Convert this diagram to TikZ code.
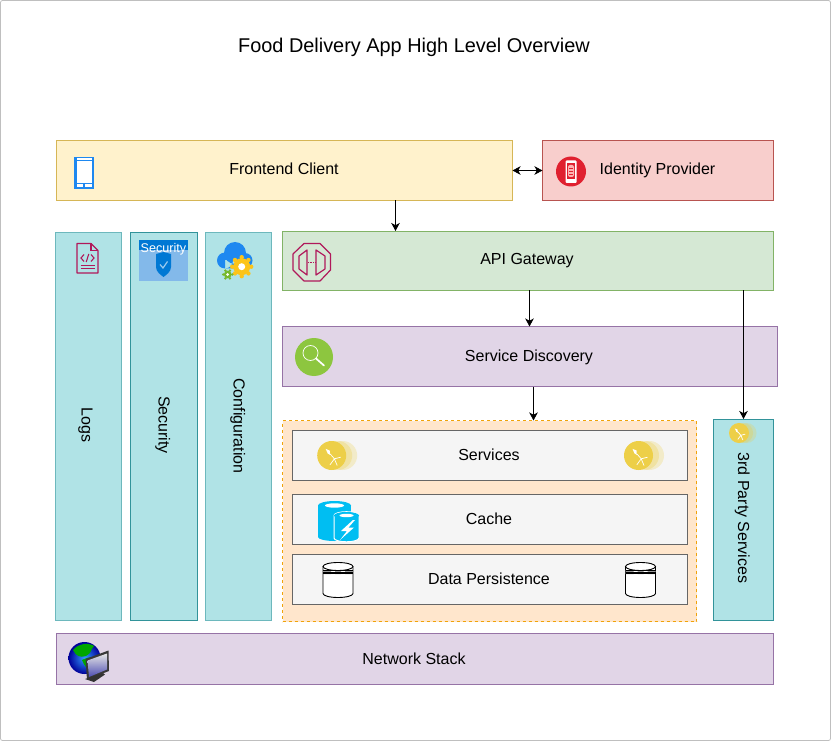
\documentclass[tikz,border=0pt]{standalone}
\usepackage{fontspec}
\setmainfont{Liberation Sans}
\usetikzlibrary{arrows.meta,calc}
\definecolor{yelF}{HTML}{FFF2CC}\definecolor{yelD}{HTML}{D6B656}
\definecolor{redF}{HTML}{F8CECC}\definecolor{redD}{HTML}{B85450}
\definecolor{grnF}{HTML}{D5E8D4}\definecolor{grnD}{HTML}{82B366}
\definecolor{purF}{HTML}{E1D5E7}\definecolor{purD}{HTML}{9673A6}
\definecolor{tealF}{HTML}{B0E3E6}\definecolor{tealD}{HTML}{0E8088}\definecolor{tealL}{HTML}{6DB8BD}
\definecolor{orgF}{HTML}{FFE6CC}\definecolor{orgD}{HTML}{F0A30A}
\definecolor{gryF}{HTML}{F5F5F5}\definecolor{gryD}{HTML}{666666}
\definecolor{crim}{HTML}{B0185A}\definecolor{blu}{HTML}{1E88F0}
\definecolor{gold}{HTML}{EDCF48}\definecolor{azu}{HTML}{00BEF2}
\definecolor{msb}{HTML}{0078D4}\definecolor{msl}{HTML}{83B9EA}
\definecolor{idred}{HTML}{E0202F}\definecolor{lime}{HTML}{8DC63F}
\definecolor{gear}{HTML}{FCC419}\definecolor{gearg}{HTML}{76B82A}
\tikzset{
 x=1pt,y=-1pt,
 every node/.style={font=\fontsize{16}{19}\selectfont,inner sep=0pt,outer sep=0pt},
 box/.style n args={6}{draw=#2,fill=#1,line width=.85pt,minimum width=#5-#3,minimum height=#6-#4,anchor=north west},
 lab/.style={anchor=base},
 vlab/.style={anchor=base,rotate=-90},
 flow/.style={draw=black,line width=.85pt,-{Stealth[length=8pt,width=8.5pt,inset=2.2pt]}},
 flowb/.style={draw=black,line width=.85pt,{Stealth[length=8pt,width=8.5pt,inset=2.2pt]}-{Stealth[length=8pt,width=8.5pt,inset=2.2pt]}},
 pics/spring/.style={code={
  \fill[gold,opacity=.25] (11,0) circle (14.5);
  \fill[gold,opacity=.3] (6,0) circle (14.5);
  \fill[gold] (0,0) circle (14.5);
  \draw[white,line width=.7pt] (-1.7,-1.7)--(2.7,3.3)--(9,1.7) (2.7,3.3)--(-1.7,9.3) (2.7,3.3)--(5.5,10);
  \fill[white] (-6,-6.6)--(-2,-5)--(-1.7,-.7)--(-4,-2)--cycle;
 }},
 pics/dbcyl/.style={code={
  \fill[white] (-15,-13) rectangle (15,14);
  \fill[white] (0,14) ellipse[x radius=15,y radius=4];
  \draw[line width=.9pt] (-15,-13) -- (-15,14) arc[start angle=180,end angle=0,x radius=15,y radius=4] -- (15,-13);
  \draw[fill=white,line width=.9pt] (0,-13) ellipse[x radius=15,y radius=4];
  \fill[gray!80] (-15,-9.5) rectangle (-7,-5.5) (7,-9.5) rectangle (15,-5.5) (-3,-9.5) rectangle (3,-5.5);
  \draw[black,line width=.55pt] (-15,-8.8)--(15,-8.8) (-15,-7.5)--(15,-7.5) (-15,-6.2)--(15,-6.2);
 }},
}
\begin{document}
\begin{tikzpicture}
\useasboundingbox (0,0) rectangle (831,741);
\draw[draw=black!25,line width=.8pt,rounded corners=2pt] (.5,.5) rectangle (830.5,740.5);
\node[lab] (title) at (414,52.5) {\fontsize{19.9}{23}\selectfont Food Delivery App High Level Overview};

\node[box={yelF}{yelD}{56pt}{140pt}{512pt}{200pt}] (fe) at (56.5,140.5) {};
\node[lab] (felab) at (284,175) {Frontend Client};
\node[box={redF}{redD}{542pt}{140pt}{773pt}{200pt}] (idp) at (542.5,140.5) {};
\node[lab] (idlab) at (657.5,175) {Identity Provider};

\node[box={tealF}{tealL}{55pt}{232pt}{121pt}{620pt}] (logs) at (55.5,232.5) {};
\node[vlab] (loglab) at (81.5,425) {Logs};
\node[box={tealF}{tealD!85!white}{130pt}{232pt}{197pt}{620pt}] (sec) at (130.5,232.5) {};
\node[vlab] (seclab) at (158.5,425) {Security};
\node[box={tealF}{tealL}{205pt}{233pt}{271pt}{621pt}] (conf) at (205.5,232.5) {};
\node[vlab] (conflab) at (233.5,426) {Configuration};

\node[box={grnF}{grnD}{282pt}{231pt}{773pt}{290pt}] (api) at (282.5,231) {};
\node[lab] (apilab) at (527,265) {API Gateway};
\node[box={purF}{purD}{282pt}{326pt}{777pt}{386pt}] (sd) at (282.5,326.5) {};
\node[lab] (sdlab) at (529,361) {Service Discovery};

\node[box={orgF}{orgD}{282pt}{420pt}{696pt}{621pt},dashed] (grp) at (282.5,420.5) {};
\node[box={gryF}{gryD}{292pt}{430pt}{687pt}{480pt}] (svc) at (292.5,430.5) {};
\node[lab] (svclab) at (489,460) {Services};
\node[box={gryF}{gryD}{292pt}{494pt}{687pt}{544pt}] (cache) at (292.5,494.5) {};
\node[lab] (calab) at (489,524) {Cache};
\node[box={gryF}{gryD}{292pt}{554pt}{687pt}{604pt}] (dp) at (292.5,554.5) {};
\node[lab] (dplab) at (489,584) {Data Persistence};

\node[box={tealF}{tealD!85!white}{713pt}{419pt}{773pt}{620pt}] (third) at (713.5,419) {};
\node[vlab] (thlab) at (738,518) {3rd Party Services};
\node[box={purF}{purD}{56pt}{633pt}{773pt}{684pt}] (net) at (56.5,633.5) {};
\node[lab] (netlab) at (414,664) {Network Stack};

% connectors
\coordinate (xa) at (395.5,0); \coordinate (xb) at (529.5,0); \coordinate (xc) at (533.5,0); \coordinate (xd) at (743.5,0); \coordinate (ya) at (0,170.5);
\draw[flow] (xa |- fe.south) -- (xa |- api.north);
\draw[flow] (xb |- api.south) -- (xb |- sd.north);
\draw[flow] (xc |- sd.south) -- (xc |- grp.north);
\draw[flow] (xd |- api.south) -- (xd |- third.north);
\draw[flowb] (fe.east |- ya) -- (idp.west |- ya);

% phone icon
\begin{scope}[shift={(74,157)}]
 \fill[blu] (0,0) rectangle (20,32);
 \fill[white] (2.5,4) rectangle (17.5,26);
 \fill[white] (2.5,1.5) rectangle (17.5,2.6);
 \fill[white] (2.5,27.5) rectangle (9,29.6);
 \fill[white] (11,27.5) rectangle (17.5,29.6);
\end{scope}
% identity icon
\fill[idred] (571,171.5) circle (15);
\fill[white,rounded corners=1pt] (565.5,160.5) rectangle (576.5,183);
\fill[idred] (566.8,163.5) rectangle (575.2,179.5);
\fill[red!30!white,rounded corners=2pt] (568,165) rectangle (574,177);
\draw[idred,line width=.5pt] (569,168)--(573,168) (569,171)--(573,171) (569,174)--(573,174);
% doc icon
\begin{scope}[shift={(77,243.5)}]
 \draw[crim,line width=1.1pt,line join=round] (0,0)--(14,0)--(21,7)--(21,29.5)--(0,29.5)--cycle;
 \draw[crim,line width=1.1pt] (14,0)--(14,7)--(21,7);
 \draw[crim,line width=1.1pt] (7,11)--(4,14.5)--(7,18) (14,11)--(17,14.5)--(14,18) (11.8,10.5)--(9.2,18.5);
 \draw[crim,line width=1pt] (3.5,22)--(17.5,22) (3.5,25.5)--(17.5,25.5);
\end{scope}
% security icon
\fill[msl] (139,240.5) rectangle (188,281);
\fill[msb] (139,240.5) rectangle (188,250);
\node[text=white,font=\fontsize{12.6}{15}\selectfont,anchor=base] (sect) at (163.5,252) {Security};
\fill[msb] (156,254) -- (163.5,252) -- (171,254) -- (171,267) .. controls (171,272) and (166,275) .. (163.5,277) .. controls (161,275) and (156,272) .. (156,267) -- cycle;
\draw[white!60!msb,line width=1.2pt] (160,264.5)--(163,268)--(167.5,261.5);
% cloud config
\fill[blu] (225,260.5) circle (8) (235,253) circle (11) (245,260.5) circle (7.5) (225,260) rectangle (245,268.5);
\foreach \a in {0,45,...,315}{\fill[gear] ($(241.7,266.7)+(\a:9.5)$) circle (2.2);}
\fill[gear] (241.7,266.7) circle (8.5);
\fill[white] (241.7,266.7) circle (3.5);
\foreach \a in {0,60,...,300}{\fill[gearg] ($(227.7,274.5)+(\a:4.5)$) circle (1.4);}
\fill[gearg] (227.7,274.5) circle (3.8);
\fill[white] (227.7,274.5) circle (1.5);
% gateway icon
\begin{scope}[crim,line width=1.2pt,line join=round]
 \draw (304,243.5)--(320,243.5)--(330.5,254)--(330.5,270)--(320,281)--(304,281)--(293,270)--(293,254)--cycle;
 \draw (307,250)--(299,256)--(299,269)--(307,275)--cycle;
 \draw (316,250)--(325,256)--(325,269)--(316,275)--cycle;
 \draw[line width=.7pt,densely dotted] (308,262.5)--(315,262.5);
\end{scope}
% discovery icon
\fill[lime] (314,357) circle (19);
\draw[white,line width=.7pt] (310.5,353) circle (7.5);
\draw[white,line width=1.7pt,line cap=round] (316,358.5)--(324,365.5);
% services icons
\pic at (331.7,455.5) {spring};
\pic at (638.5,455.5) {spring};
\pic[scale=.69] at (739,433) {spring};
% cache icon
\fill[azu] (318,505.5) rectangle (351,537);
\fill[azu] (334.5,505.5) ellipse[x radius=16.5,y radius=4.5];
\fill[azu] (334.5,537) ellipse[x radius=16.5,y radius=4];
\fill[white] (334.5,505.5) ellipse[x radius=9.5,y radius=2.2];
\draw[white,line width=1pt,fill=azu] (334,515.5) -- (334,538) arc[start angle=180,end angle=0,x radius=12.5,y radius=3.8] -- (359,515.5) arc[start angle=0,end angle=-180,x radius=12.5,y radius=3.8] -- cycle;
\fill[azu] (346.5,515.5) ellipse[x radius=12.5,y radius=3.5];
\fill[white] (346.5,515.5) ellipse[x radius=7,y radius=1.7];
\fill[white] (353,520) -- (341,531) -- (347,531) -- (340,540) -- (354,527.5) -- (348.5,527.5) -- (355,520) -- cycle;
% db icons
\pic at (338,579.5) {dbcyl};
\pic at (640.5,579.5) {dbcyl};
% network icon
\shade[inner color=blue!50!cyan!80!white,outer color=blue!60!black] (84.5,658) circle (16);
\fill[green!65!black] (73,650) .. controls (78,644) and (88,642) .. (94,646) .. controls (90,650) and (92,653) .. (86,656) .. controls (80,658) and (76,656) .. (73,650) -- cycle;
\fill[green!65!black] (82,660) .. controls (90,656) and (98,656) .. (100,660) .. controls (100,666) and (94,672) .. (88,672) .. controls (88,668) and (84,666) .. (82,660) -- cycle;
\fill[black!78] (85.5,659) -- (108.5,650.5) -- (109,671) -- (87,679.5) -- cycle;
\shade[top color=gray!20,bottom color=blue!40!gray] (87.5,660.5) -- (107,653.5) -- (107,669.5) -- (89,677) -- cycle;
\fill[black!80] (85,679) -- (94,676) -- (103,673) -- (105,674.5) -- (94,682) -- cycle;
\end{tikzpicture}
\end{document}
